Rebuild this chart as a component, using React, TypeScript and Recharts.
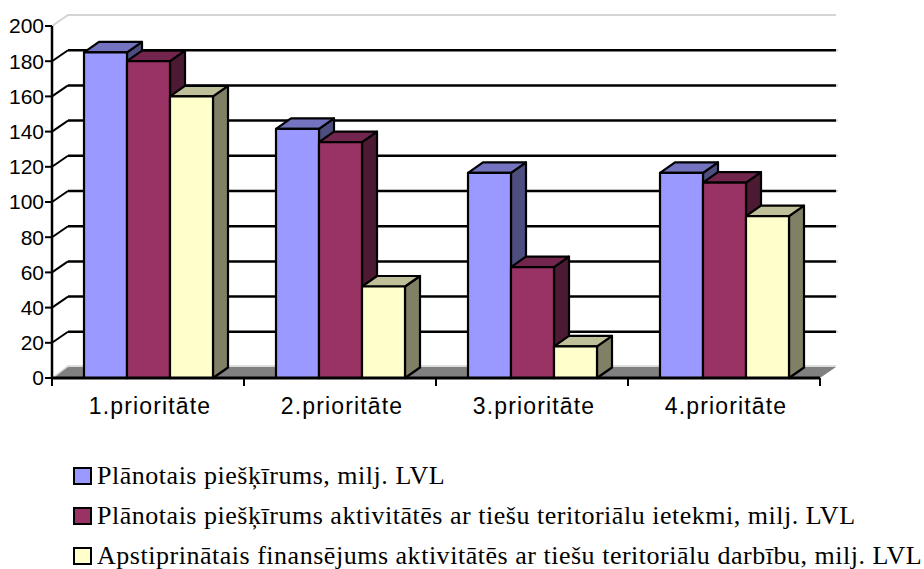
import React from 'react';
import { BarChart, Bar, XAxis, YAxis, CartesianGrid, Legend } from 'recharts';

const categories = ['1.prioritāte', '2.prioritāte', '3.prioritāte', '4.prioritāte'];
const planned = [185, 141.5, 116.5, 116.5];
const plannedTerritorial = [180, 134, 63, 111];
const confirmed = [160, 52, 18, 92];
const yTicks = [0, 20, 40, 60, 80, 100, 120, 140, 160, 180, 200];

const seriesNames = [
  'Plānotais piešķīrums, milj. LVL',
  'Plānotais piešķīrums aktivitātēs ar tiešu teritoriālu ietekmi, milj. LVL',
  'Apstiprinātais finansējums aktivitātēs ar tiešu teritoriālu darbību, milj. LVL',
];

const data = categories.map((name, i) => ({
  name,
  planned: planned[i],
  plannedTerritorial: plannedTerritorial[i],
  confirmed: confirmed[i],
}));

const DX = 15;
const DY = 10.5;
const WALL_DX = 16;
const WALL_DY = 11;
const PLOT_TOP = 26;
const PLOT_BOTTOM = 378;
const CATEGORY_W = 192;

// fake 3D box, the front comes from the bar's own x/y/width/height
const Box = (top: string, side: string) => (props: any) => {
  const { x, y, width, height, fill } = props;
  const r = x + width;
  const b = y + height;
  return (
    <g stroke="#000" strokeWidth={2.2} strokeLinejoin="round">
      <polygon points={`${r},${y} ${r + DX},${y - DY} ${r + DX},${b - DY} ${r},${b}`} fill={side} />
      <polygon points={`${x},${y} ${x + DX},${y - DY} ${r + DX},${y - DY} ${r},${y}`} fill={top} />
      <rect x={x} y={y} width={width} height={height} fill={fill} />
    </g>
  );
};

const GridLine = (props: any) => {
  const { x1, x2, y1 } = props;
  const bx = x1 + WALL_DX;
  const by = y1 - WALL_DY;
  const ex = x2 + WALL_DX;
  if (Math.abs(y1 - PLOT_BOTTOM) < 1) {
    return (
      <g>
        <polygon points={`${x1},${y1} ${bx},${by} ${ex},${by} ${x2},${y1}`} fill="#808080" />
        <path d={`M${x1 + 2} ${y1 - 1}L${bx} ${by - 1}H${ex}`} fill="none" stroke="#d4d4d4" strokeWidth={1.5} />
      </g>
    );
  }
  if (Math.abs(y1 - PLOT_TOP) < 1) {
    return <path d={`M${x1} ${y1}L${bx} ${by}H${ex}`} fill="none" stroke="#d4d4d4" strokeWidth={2} />;
  }
  return (
    <g fill="none">
      <path d={`M${x1} ${y1}L${bx} ${by}`} stroke="#000" strokeWidth={2} />
      <path d={`M${bx} ${by}H${ex}`} stroke="#000" strokeWidth={2.5} />
      <path d={`M${ex} ${by}h2`} stroke="#d4d4d4" strokeWidth={2} />
    </g>
  );
};

const CategoryTick = (props: any) => {
  const { x, y, payload, index } = props;
  const axisY = PLOT_BOTTOM;
  return (
    <g>
      <line x1={x - CATEGORY_W / 2} x2={x - CATEGORY_W / 2} y1={axisY} y2={axisY + 8} stroke="#000" strokeWidth={2} />
      {index === categories.length - 1 && (
        <line x1={x + CATEGORY_W / 2} x2={x + CATEGORY_W / 2} y1={axisY} y2={axisY + 8} stroke="#000" strokeWidth={2} />
      )}
      <text
        x={x + 2}
        y={y + 28}
        textAnchor="middle"
        fontSize={23}
        letterSpacing={1.15}
        fill="#000"
        fontFamily="'Liberation Sans', Arial, sans-serif"
      >
        {payload.value}
      </text>
    </g>
  );
};

const LegendBox = ({ payload }: any) => (
  <div style={{ fontFamily: "'Liberation Serif', 'Times New Roman', serif", fontSize: 26, letterSpacing: 0.52, color: '#000' }}>
    {(payload || []).map((item: any) => (
      <div key={item.value} style={{ position: 'relative', height: 26, lineHeight: '26px', marginBottom: 14, paddingLeft: 24, whiteSpace: 'nowrap' }}>
        <span
          style={{
            position: 'absolute',
            left: 0,
            top: 4,
            width: 15,
            height: 14,
            border: '2px solid #000',
            background: item.color,
          }}
        />
        {item.value}
      </div>
    ))}
  </div>
);

export default function App() {
  return (
    <div style={{ position: 'absolute', left: 0, top: 0, width: 924, height: 569, overflow: 'hidden', background: '#fff' }}>
      <BarChart
        width={924}
        height={569}
        data={data}
        margin={{ top: 26, right: 104, bottom: 0, left: 0 }}
        barCategoryGap={32}
        barGap={0}
      >
        <CartesianGrid vertical={false} horizontal={GridLine} />
        <XAxis
          dataKey="name"
          height={191}
          interval={0}
          tickLine={false}
          axisLine={{ stroke: '#000', strokeWidth: 3 }}
          tick={CategoryTick}
        />
        <YAxis
          width={52}
          domain={[0, 200]}
          ticks={yTicks}
          interval={0}
          tickSize={7}
          tickMargin={1}
          tickLine={{ stroke: '#000', strokeWidth: 2 }}
          axisLine={{ stroke: '#000', strokeWidth: 2.5 }}
          tick={{ fill: '#000', fontSize: 21, fontFamily: "'Liberation Sans', Arial, sans-serif" }}
        />
        <Legend
          layout="horizontal"
          verticalAlign="middle"
          align="center"
          itemSorter={null}
          content={LegendBox}
          wrapperStyle={{ position: 'absolute', left: 73, top: 463, width: 851, height: 106 }}
        />
        <Bar dataKey="planned" name={seriesNames[0]} fill="#9999ff" shape={Box('#7373bf', '#4d4d80')} isAnimationActive={false} />
        <Bar dataKey="plannedTerritorial" name={seriesNames[1]} fill="#993366" shape={Box('#73264d', '#4d1a33')} isAnimationActive={false} />
        <Bar dataKey="confirmed" name={seriesNames[2]} fill="#ffffcc" shape={Box('#bfbf99', '#808066')} isAnimationActive={false} />
      </BarChart>
    </div>
  );
}
